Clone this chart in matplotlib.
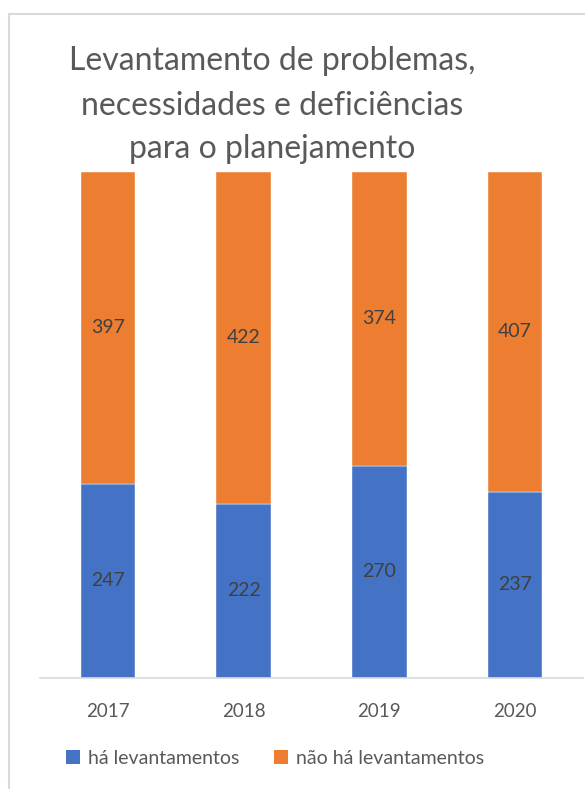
import matplotlib
matplotlib.use("Agg")
import matplotlib.pyplot as plt
from matplotlib.patches import Rectangle, Patch
import numpy as np

categories = ["2017", "2018", "2019", "2020"]
ha_levantamentos = [247, 222, 270, 237]
nao_ha_levantamentos = [397, 422, 374, 407]
series_names = ["há levantamentos", "não há levantamentos"]
title_lines = ["Levantamento de problemas,", "necessidades e deficiências", "para o planejamento"]

BLUE = "#4472C4"
ORANGE = "#ED7D31"
GRID = "#D9D9D9"
TXT = "#595959"
LBL = "#404040"

plt.rcParams["font.family"] = ["Lato", "DejaVu Sans"]

W, H = 585, 789
fig = plt.figure(figsize=(W / 100, H / 100), dpi=100)

# border
fig.add_artist(Rectangle((9 / W, -0.1), 1.2, (1 - 14 / H) + 0.1, transform=fig.transFigure,
                         fill=False, edgecolor=GRID, linewidth=1.5))

ax = fig.add_axes([40 / W, 1 - 678 / H, (583 - 40) / W, (678 - 172) / H])
x = np.arange(len(categories))
ha = np.array(ha_levantamentos, dtype=float)
nao = np.array(nao_ha_levantamentos, dtype=float)
tot = ha + nao
f_ha = ha / tot
f_nao = nao / tot

ax.bar(x, f_ha, width=0.4, color=BLUE, edgecolor="white", linewidth=0.3)
ax.bar(x, f_nao, width=0.4, bottom=f_ha, color=ORANGE, edgecolor="white", linewidth=0.3)

for i in range(len(categories)):
    ax.text(x[i], f_ha[i] / 2, str(ha_levantamentos[i]), ha="center", va="center",
            fontsize=14, color=LBL)
    ax.text(x[i], f_ha[i] + f_nao[i] / 2, str(nao_ha_levantamentos[i]), ha="center",
            va="center", fontsize=14, color=LBL)

ax.set_xlim(-0.5, 3.5)
ax.set_ylim(0, 1)
ax.set_xticks(x)
ax.set_xticklabels(categories, fontsize=13.5, color=TXT)
ax.tick_params(axis="x", length=0, pad=18)
ax.set_yticks([])
for s in ["top", "left", "right"]:
    ax.spines[s].set_visible(False)
ax.spines["bottom"].set_color(GRID)
ax.spines["bottom"].set_linewidth(1.2)

for line, yb in zip(title_lines, [70, 115, 158]):
    fig.text(272 / W, 1 - yb / H, line, ha="center", va="baseline", fontsize=23,
             color=TXT)

handles = [Patch(facecolor=BLUE), Patch(facecolor=ORANGE)]
fig.legend(handles, series_names, loc="center", bbox_to_anchor=(275 / W, 1 - 758 / H),
           ncol=2, frameon=False, fontsize=14, labelcolor=TXT, handlelength=0.7,
           handleheight=0.7, handletextpad=0.4, columnspacing=1.8)

fig.savefig("out.png", dpi=100)
